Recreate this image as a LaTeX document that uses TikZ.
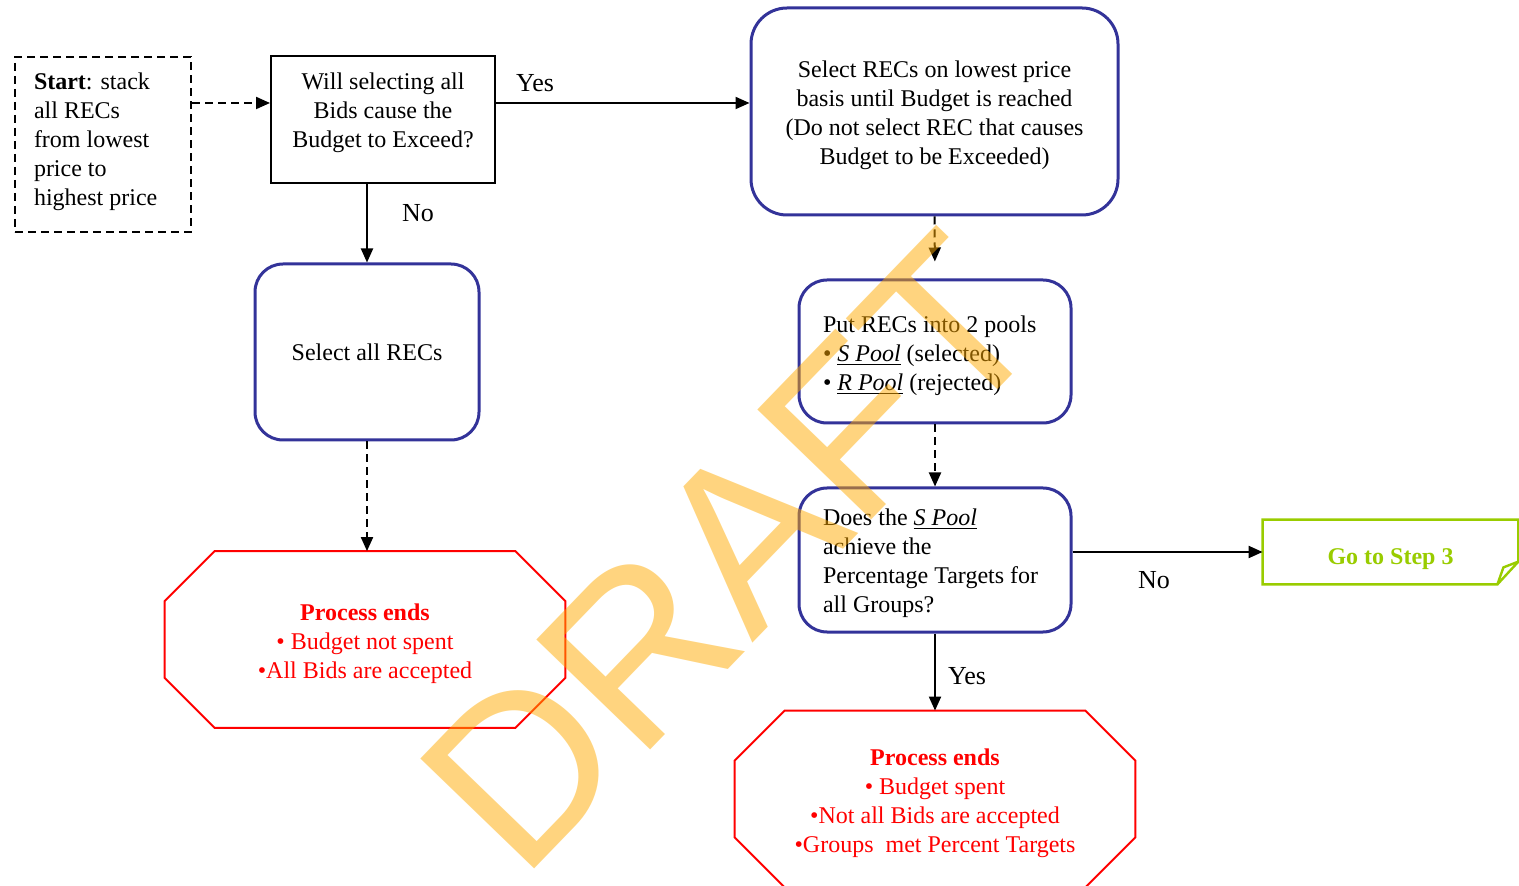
\documentclass[tikz,border=0pt]{standalone}
\usepackage{fontspec}
\setmainfont{Liberation Serif}
\newfontfamily\draftfont{Liberation Sans}
\usetikzlibrary{arrows.meta,calc}
\definecolor{boxblue}{RGB}{51,51,153}
\definecolor{endred}{RGB}{255,0,0}
\definecolor{stepgreen}{RGB}{153,204,0}
\definecolor{draftorange}{RGB}{255,170,0}
% struts to move a text block down (top) or up (bot) in its box
\newcommand{\topstrut}[1]{\rule{0pt}{#1}}
\newcommand{\botstrut}[1]{\rule[-#1]{0pt}{#1}}
% octagon round an end node
\newcommand{\octline}[1]{\draw[end_line] ($(#1.north west)+(50,0)$) -- ($(#1.north east)+(-50,0)$) -- ($(#1.north east)+(0,50)$) -- ($(#1.south east)+(0,-50)$) -- ($(#1.south east)+(-50,0)$) -- ($(#1.south west)+(50,0)$) -- ($(#1.south west)+(0,-50)$) -- ($(#1.north west)+(0,50)$) -- cycle;}

\begin{document}
\begin{tikzpicture}[x=0.5pt,y=-0.5pt,font=\fontsize{12}{14.5}\selectfont,
    start_node/.style={draw,line width=1pt,dash pattern=on 4pt off 2.5pt,text width=69pt,inner xsep=9.5pt,align=flush left,minimum height=87.5pt},
    q_node/.style={draw,line width=1pt,minimum width=112pt,minimum height=63.5pt,align=center},
    round_node/.style={draw=boxblue,line width=1.5pt,rounded corners=14pt,align=center},
    pool_node/.style={round_node,text width=112pt,inner xsep=12pt,align=flush left},
    end_node/.style={text=endred,align=center,minimum width=200pt,minimum height=88pt},
    end_line/.style={draw=endred,line width=1pt},
    go_node/.style={text=stepgreen,font=\fontsize{12}{14.5}\selectfont\bfseries,minimum width=127.5pt,minimum height=32pt,text height=15.2pt},
    go_line/.style={draw=stepgreen,line width=1.2pt},
    lbl/.style={font=\fontsize{13}{15}\selectfont,inner sep=0},
    arr/.style={-{Triangle[length=7pt,width=6pt]},line width=1pt},
    dash_arr/.style={arr,dash pattern=on 4pt off 2.5pt},
    draft_mark/.style={rotate=46,text=draftorange,opacity=0.5,text opacity=0.5,inner sep=0,font=\draftfont\fontsize{115}{115}\selectfont}]
    \useasboundingbox (0,0) rectangle (1519,886);
    \node[start_node] (start) at (103,144.5) {\textbf{Start}: stack\\ all RECs\\ from lowest\\ price to\\ highest price\botstrut{5.6pt}};
    \node[q_node] (q1) at (383,119.5) {Will selecting all\\ Bids cause the\\ Budget to Exceed?\botstrut{9.6pt}};
    \node[round_node, minimum width=183.5pt, minimum height=103.5pt, rounded corners=18pt] (sel) at (934.5,111.5) {\topstrut{12.2pt}Select RECs on lowest price\\ basis until Budget is reached\\ (Do not select REC that causes\\ Budget to be Exceeded)};
    \node[round_node, minimum width=112pt, minimum height=88pt] (selall) at (367,352) {Select all RECs};
    \node[pool_node, minimum height=71.5pt] (pools) at (935,351.5) {\topstrut{12.2pt}Put RECs into 2 pools\\ • \underline{\textit{S Pool}} (selected)\\ • \underline{\textit{R Pool}} (rejected)};
    \node[pool_node, minimum height=72pt] (q2) at (935,560) {\topstrut{11.2pt}Does the \underline{\textit{S Pool}}\\ achieve the\\ Percentage Targets for\\ all Groups?};
    \node[end_node] (end1) at (365,639.5) {\topstrut{12.2pt}\textbf{Process ends}\\ • Budget not spent\\ •All Bids are accepted};
    \node[end_node] (end2) at (935,799) {\topstrut{12.2pt}\textbf{Process ends}\\ • Budget spent\\ •Not all Bids are accepted\\ •Groups\ \ met Percent Targets};
    \node[go_node] (go) at (1390.5,552) {Go to Step 3};
    \octline{end1}
    \octline{end2}
    \draw[go_line] (go.north west) -- (go.north east) -- ($(go.north east)+(0,42)$) -- ($(go.south east)+(-21,0)$) -- (go.south west) -- cycle;
    \draw[go_line] ($(go.north east)+(0,42)$) -- ($(go.south east)+(-15,-17)$) -- ($(go.south east)+(-21,0)$);
    \coordinate (row) at (0,103);
    \draw[dash_arr] (start.east |- row) -- (q1.west |- row);
    \draw[arr] (q1.east |- row) -- (sel.west |- row);
    \draw[arr] (selall.north |- q1.south) -- (selall.north);
    \draw[dash_arr] (selall.south) -- (end1.north -| selall.south);
    \draw[dash_arr, shorten >=8.5pt] (sel.south) -- (pools.north);
    \draw[dash_arr] (pools.south) -- (q2.north);
    \draw[arr] (q2.east |- go.west) -- (go.west);
    \draw[arr] (q2.south) -- (end2.north);
    \node[lbl] (yes1) at (535,83) {Yes};
    \node[lbl] (no1) at (418,213) {No};
    \node[lbl] (no2) at (1154,580) {No};
    \node[lbl] (yes2) at (967,676) {Yes};
    \node[draft_mark] (draft) at (731,552) {DRAFT};
\end{tikzpicture}
\end{document}
